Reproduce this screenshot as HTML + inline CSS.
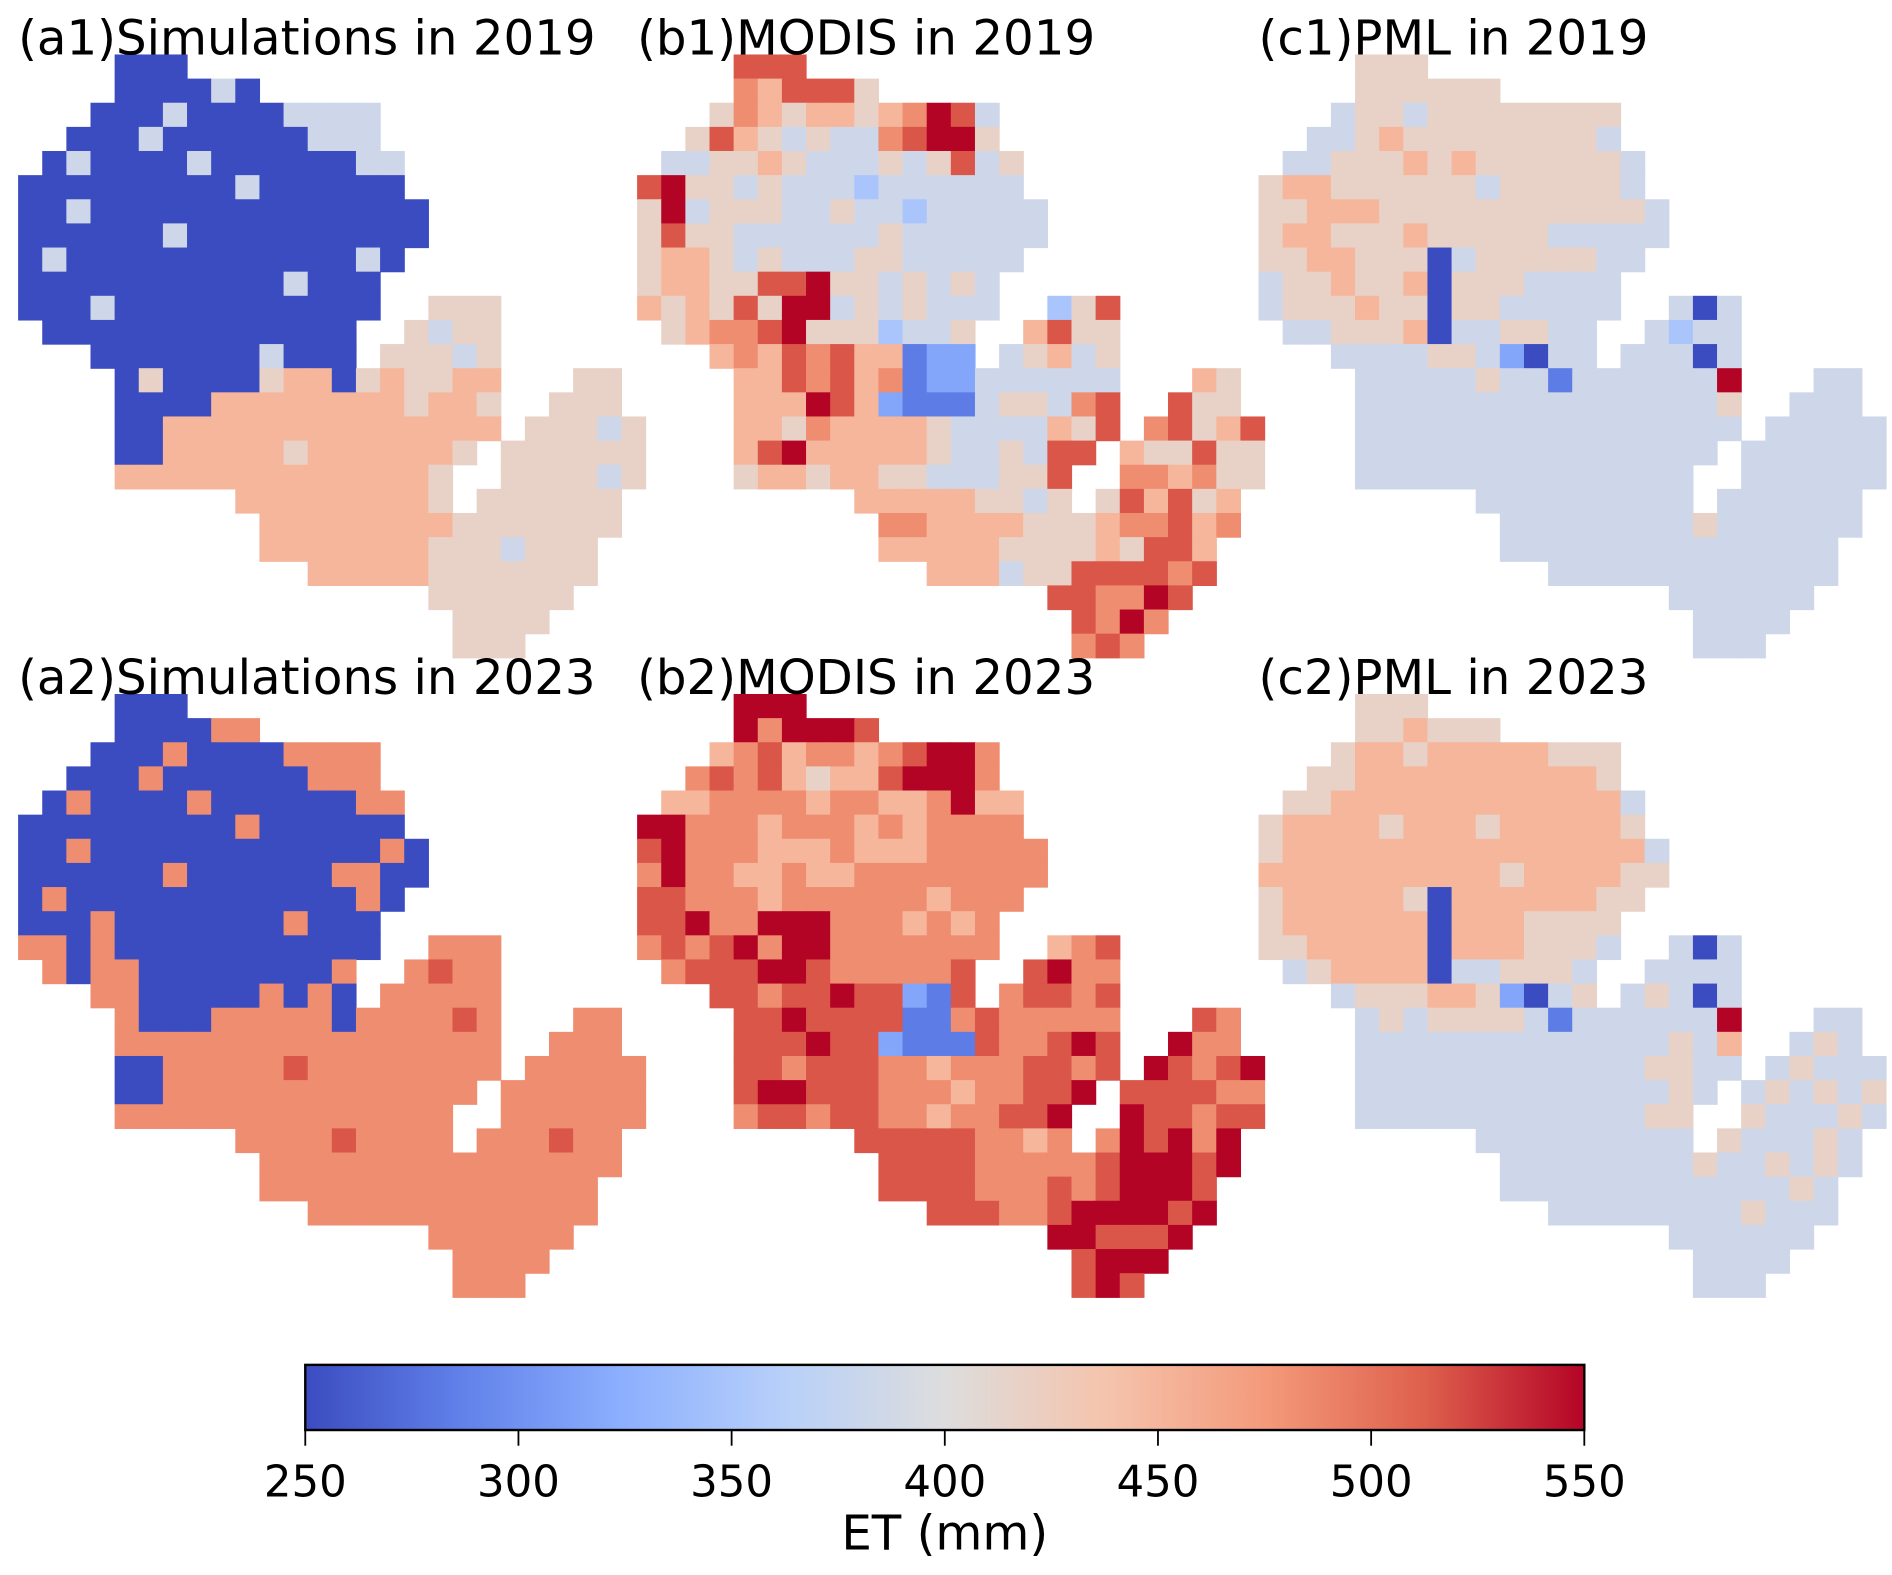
<!DOCTYPE html>
<html><head><meta charset="utf-8"><style>
html,body{margin:0;padding:0;background:#fff;}
svg{display:block;font-family:"DejaVu Sans","Liberation Sans",sans-serif;}
</style></head><body>
<svg id="fig" width="1892" height="1575" viewBox="0 0 1568 1305" xmlns="http://www.w3.org/2000/svg">
<rect x="0" y="0" width="1568" height="1305" fill="#fff"/>
<g id="maps"></g>
<text x="15" y="45" font-size="40">(a1)Simulations in 2019</text>
<text x="528" y="45" font-size="40">(b1)MODIS in 2019</text>
<text x="1043" y="45" font-size="40">(c1)PML in 2019</text>
<text x="15" y="575" font-size="40">(a2)Simulations in 2023</text>
<text x="528" y="575" font-size="40">(b2)MODIS in 2023</text>
<text x="1043" y="575" font-size="40">(c2)PML in 2023</text>
<defs><linearGradient id="cw" x1="0" x2="1" y1="0" y2="0">
<stop offset="0" stop-color="rgb(59,76,192)"/><stop offset="0.125" stop-color="rgb(98,130,234)"/>
<stop offset="0.25" stop-color="rgb(141,176,254)"/><stop offset="0.375" stop-color="rgb(184,208,249)"/>
<stop offset="0.5" stop-color="rgb(221,221,221)"/><stop offset="0.625" stop-color="rgb(245,196,173)"/>
<stop offset="0.75" stop-color="rgb(244,154,123)"/><stop offset="0.875" stop-color="rgb(222,96,77)"/>
<stop offset="1" stop-color="rgb(180,4,38)"/></linearGradient></defs>
<rect x="253" y="1131" width="1060" height="54" fill="url(#cw)" stroke="#000" stroke-width="2"/>
<g id="cbticks"></g>
<text x="783" y="1284" font-size="40" text-anchor="middle">ET (mm)</text>
</svg>
<script>
const cbTicks=[250,300,350,400,450,500,550];
const cbMin=250, cbMax=550;
// mask column ranges per row (grid cells, 20px each)
const maskRanges=[[[4,6]],[[4,9]],[[3,14]],[[2,14]],[[1,15]],[[0,15]],[[0,16]],[[0,16]],[[0,15]],[[0,14]],
[[0,14],[17,19]],[[1,13],[16,19]],[[3,13],[15,19]],[[4,19],[23,24]],[[4,19],[22,24]],[[4,19],[21,25]],
[[4,18],[20,25]],[[4,17],[20,25]],[[9,17],[19,24]],[[10,17],[18,24]],[[10,16],[17,23]],[[12,16],[17,23]],
[[17,22]],[[18,21]],[[18,20]]];
// values: digit d -> 250 + d*300/9 ET(mm)
const a1Rows=["000","000040","000400004444","0004000000444","040000400000044","0000000004000000","00400000000000000","00000040000000000","0400000000000040","000000000004000",
"000400000000000555","00000000000005455","0000000400055545","050000566056556655","0000666666665665555","006666666666666655545",
"006666656666665555555","66666666666665555545","666666665555555","666666665555555","66666665554555","666665555555","555555","5555","555"];
const a2Rows=["000","000077","000700007777","0007000000777","070000700000077","0000000007000000","00700000000000070","00000070000007700","0700000000000070","000700000007000",
"770700000000000777","70770000000077877","7700000707077777","700077777077778777","7777777777777777777","007777787777777777777",
"007777777777777777777","77777777777777777777","777787777777877","777777777777777","77777777777777","777777777777","777777","7777","777"];
const b1Rows=["888","768885","576566567984","5865454478995","445565444545845","8955454443444444","59455544544344444","58554444445444444","5665454445544444","566558895545454",
"656585994545444358","5677895553445685","6768786612245645","668786712244444465","6669862111455478855","665766665444465878568",
"68966666544548865585","5665665544455877675","666665545586856","776666555677867","666665555658867","666455888878","887798","8797","787"];
const b2Rows=["999","979998","678677678997","7878656689997","667777677667966","9977767776767777","89777666766677777","79776676677777777","8877767777776777","889779997776767",
"787897997777777678","7888998777778897","8878898821878878","889888811787777787","8889882111877898977","887888776777887898789",
"89988877767788988887","7887887767788998878","888887767798979","888877777899989","88887778789998","888778999989","998889","8999","898"];
const c1Rows=["555","555555","455455555555","4456555555554","445556565555554","5665555554555554","55666555555555554","56655565555544444","5566555045555544","455655605554444",
"455565505544444404","4455560445544434","4444554204444404","444445441444444944","4444444444444445444","444444444444444444444",
"444444444444444444444","44444444444444444444","444444444444444","444444445444444","44444444444444","444444444444","444444","4444","444"];
const c2Rows=["555","556555","566566666555","5566666666665","556666666666664","5666656665666665","56666666666666664","66666666665666655","5666665066666655","566666606665555",
"556666606665554404","4566660445554444","4555665204545404","454555541444444944","4444444444444546454","444444444444554445444",
"444444444444454454545","44444444444455544454","444444444544454","444444445445454","44444444444454","444444445444","444444","4444","444"];
const panels=[
 {name:"a1",rows:a1Rows,x0:15,y0:45},{name:"b1",rows:b1Rows,x0:528,y0:45},{name:"c1",rows:c1Rows,x0:1043,y0:45},
 {name:"a2",rows:a2Rows,x0:15,y0:575},{name:"b2",rows:b2Rows,x0:528,y0:575},{name:"c2",rows:c2Rows,x0:1043,y0:575}];
const stops=[[59,76,192],[98,130,234],[141,176,254],[184,208,249],[221,221,221],[245,196,173],[244,154,123],[222,96,77],[180,4,38]];
function cmap(v){let t=Math.max(0,Math.min(1,(v-cbMin)/(cbMax-cbMin)))*8;let i=Math.min(7,Math.floor(t));let f=t-i;
 const a=stops[i],b=stops[i+1];return `rgb(${Math.round(a[0]+(b[0]-a[0])*f)},${Math.round(a[1]+(b[1]-a[1])*f)},${Math.round(a[2]+(b[2]-a[2])*f)})`;}
const CELL=20, NS="http://www.w3.org/2000/svg";
const maps=document.getElementById('maps');
panels.forEach(p=>{
 const g=document.createElementNS(NS,'g');
 
 
 maskRanges.forEach((ranges,r)=>{
  const s=p.rows[r]||"";let k=0;
  ranges.forEach(([c0,c1])=>{for(let c=c0;c<=c1;c++){
   const ch=s[k]!==undefined?s[k]:(s[s.length-1]||'5');k++;
   const v=cbMin+(+ch)*(cbMax-cbMin)/9;
   const rc=document.createElementNS(NS,'rect');
   rc.setAttribute('x',p.x0+c*CELL);rc.setAttribute('y',p.y0+r*CELL);
   rc.setAttribute('width',CELL+0.5);rc.setAttribute('height',CELL+0.5);
   rc.setAttribute('fill',cmap(v));
   
   
   g.appendChild(rc);}});
 });
 maps.appendChild(g);
});
const tg=document.getElementById('cbticks');
const cbX=v=>253+(v-cbMin)/(cbMax-cbMin)*1060;
cbTicks.forEach(t=>{
 const l=document.createElementNS(NS,'line');
 l.setAttribute('x1',cbX(t));l.setAttribute('x2',cbX(t));l.setAttribute('y1',1185);l.setAttribute('y2',1198);
 l.setAttribute('stroke','#000');l.setAttribute('stroke-width','1.5');
 
 
 tg.appendChild(l);
 const tx=document.createElementNS(NS,'text');
 tx.setAttribute('x',cbX(t));tx.setAttribute('y',1240);tx.setAttribute('font-size','36');tx.setAttribute('text-anchor','middle');
 tx.textContent=t;
 
 
 tg.appendChild(tx);
});
</script>
</body></html>
